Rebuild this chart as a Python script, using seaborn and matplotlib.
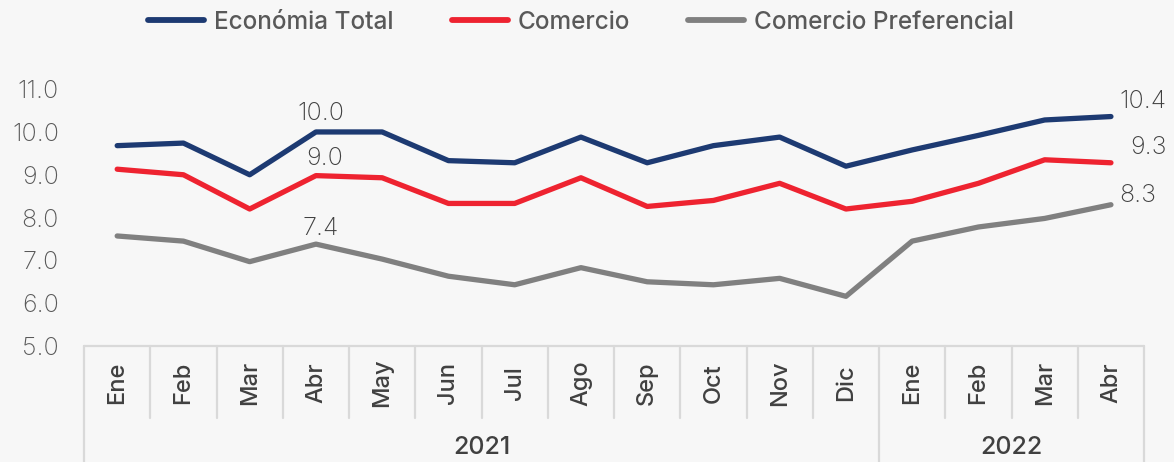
import pandas as pd
import seaborn as sns
import matplotlib.pyplot as plt

# Data
months = ['Ene', 'Feb', 'Mar', 'Abr', 'May', 'Jun', 'Jul', 'Ago', 'Sep', 'Oct', 'Nov', 'Dic',
          'Ene', 'Feb', 'Mar', 'Abr']
years = ['2021'] * 12 + ['2022'] * 4

economia_total = [9.68, 9.74, 9.00, 10.00, 10.00, 9.33, 9.28, 9.88, 9.28, 9.68, 9.88, 9.20,
                  9.58, 9.92, 10.28, 10.36]
comercio = [9.13, 9.00, 8.20, 8.98, 8.93, 8.33, 8.33, 8.93, 8.26, 8.40, 8.80, 8.20,
            8.38, 8.80, 9.35, 9.28]
comercio_pref = [7.57, 7.45, 6.97, 7.38, 7.03, 6.63, 6.43, 6.83, 6.50, 6.43, 6.58, 6.16,
                 7.45, 7.78, 7.98, 8.30]

series = {'Económia Total': economia_total,
          'Comercio': comercio,
          'Comercio Preferencial': comercio_pref}
colors = {'Económia Total': '#1d3a72', 'Comercio': '#ee2330', 'Comercio Preferencial': '#808080'}

rows = []
for name, vals in series.items():
    for i, v in enumerate(vals):
        rows.append({'pos': i, 'value': v, 'serie': name})
df = pd.DataFrame(rows)

# Plotting
sns.set_theme(style='white')
plt.rcParams['font.family'] = ['Inter', 'DejaVu Sans']

bg = '#f7f7f7'
fig = plt.figure(figsize=(11.74, 4.62), dpi=100, facecolor=bg)
ax = fig.add_axes([0.0716, 0.2511, 0.9029, 0.593])
ax.set_facecolor(bg)

sns.lineplot(data=df, x='pos', y='value', hue='serie', palette=colors, linewidth=3.8,
             sort=False, ax=ax, legend=False)

ax.set_xlim(-0.5, len(months) - 0.5)
ax.set_ylim(5, 11.4)
ax.set_yticks([5, 6, 7, 8, 9, 10, 11])
ax.set_yticklabels([f'{t:.1f}' for t in [5, 6, 7, 8, 9, 10, 11]])
ax.tick_params(axis='y', length=0, pad=18, labelsize=18, labelcolor='#595959')
for lb in ax.get_yticklabels():
    lb.set_fontweight('light')
ax.set_xticks([])
ax.set_xlabel('')
ax.set_ylabel('')
for s in ax.spines.values():
    s.set_visible(False)

# category table under the axis
grid_c = '#d9d9d9'
tr = ax.get_xaxis_transform()
ax.plot([-0.5, len(months) - 0.5], [0, 0], transform=tr, color=grid_c, lw=1.6, clip_on=False)
group_edges = [0, 12, 16]
for k in range(len(months) + 1):
    bottom = -0.43 if k in group_edges else -0.263
    ax.plot([k - 0.5, k - 0.5], [0, bottom], transform=tr, color=grid_c, lw=1.6, clip_on=False)

for i, m in enumerate(months):
    ax.text(i, -0.135, m, transform=tr, rotation=90, ha='center', va='center',
            fontsize=17, fontweight='medium', color='#404040')

for y in ['2021', '2022']:
    idx = [i for i, v in enumerate(years) if v == y]
    ax.text((idx[0] + idx[-1]) / 2, -0.372, y, transform=tr, ha='center', va='center',
            fontsize=18, fontweight='medium', color='#404040')

# value labels
label_offsets = {
    ('Económia Total', 3): (3.6, 13, 'center'),
    ('Comercio', 3): (6.5, 12.2, 'center'),
    ('Comercio Preferencial', 3): (3.6, 11.5, 'center'),
    ('Económia Total', 15): (5.8, 10.8, 'left'),
    ('Comercio', 15): (27, 10.8, 'center'),
    ('Comercio Preferencial', 15): (19, 6.5, 'center'),
}
for (name, i), (dx, dy, ha) in label_offsets.items():
    v = series[name][i]
    ax.annotate(f'{v:.1f}', (i, v), xytext=(dx, dy), textcoords='offset points',
                ha=ha, va='center', fontsize=18, fontweight='light', color='#404040')

# legend
handles = [plt.Line2D([], [], color=colors[n], lw=4.2) for n in series]
fig.legend(handles, list(series.keys()), loc='center', bbox_to_anchor=(0.495, 0.952), ncol=3,
           frameon=False, handlelength=2.3, handletextpad=0.4, columnspacing=2.4,
           labelcolor='#595959', prop={'weight': 'medium', 'size': 17.5})

fig.savefig('out.png', dpi=100, facecolor=bg)
